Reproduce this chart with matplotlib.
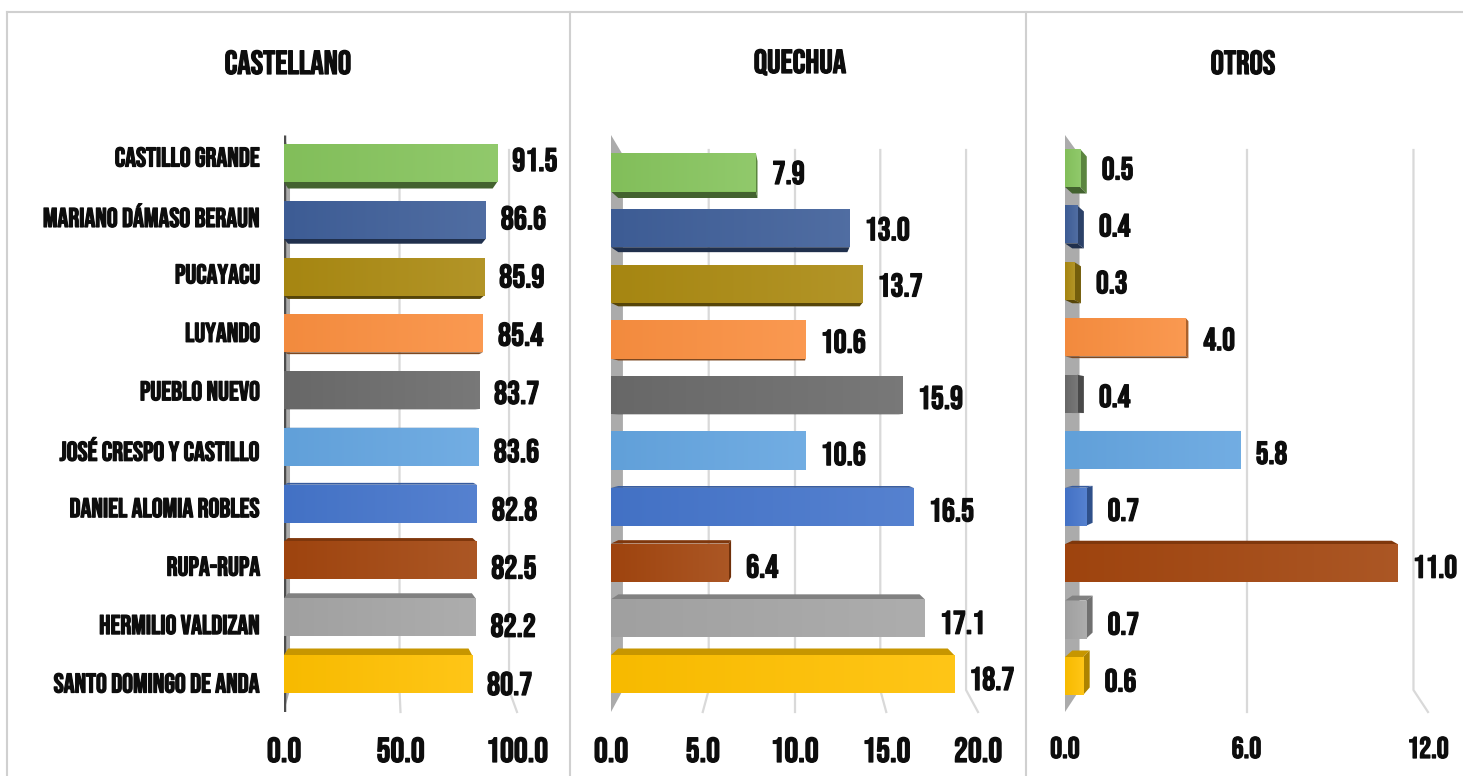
import numpy as np
import matplotlib
matplotlib.use('Agg')
import matplotlib.pyplot as plt
from matplotlib.patches import Polygon
from matplotlib.lines import Line2D
import matplotlib.colors as mcolors
import matplotlib.patheffects as pe

# ---------------- data ----------------
categories = ["CASTILLO GRANDE", "MARIANO DÁMASO BERAUN", "PUCAYACU", "LUYANDO",
              "PUEBLO NUEVO", "JOSÉ CRESPO Y CASTILLO", "DANIEL ALOMIA ROBLES",
              "RUPA-RUPA", "HERMILIO VALDIZAN", "SANTO DOMINGO DE ANDA"]
castellano = [91.5, 86.6, 85.9, 85.4, 83.7, 83.6, 82.8, 82.5, 82.2, 80.7]
quechua = [7.9, 13.0, 13.7, 10.6, 15.9, 10.6, 16.5, 6.4, 17.1, 18.7]
otros = [0.5, 0.4, 0.3, 4.0, 0.4, 5.8, 0.7, 11.0, 0.7, 0.6]
titles = ["CASTELLANO", "QUECHUA", "OTROS"]
ticks_castellano = [0, 50, 100]
ticks_quechua = [0, 5, 10, 15, 20]
ticks_otros = [0, 6, 12]
colors = ['#86C45D', '#3F5F99', '#AB8A12', '#FA8F40', '#6B6B6B',
          '#64A5E0', '#4575CB', '#A3460F', '#A5A5A5', '#FFC000']

# ---------------- style ----------------
W, H = 1463, 776
plt.rcParams['font.family'] = ['Bebas Neue', 'Oswald', 'IBM Plex Sans Condensed', 'DejaVu Sans']
plt.rcParams['font.weight'] = 'bold'
TEXT = '#0d0d0d'
HEAVY = [pe.withStroke(linewidth=0.9, foreground=TEXT)]

fig = plt.figure(figsize=(W / 100, H / 100), dpi=100)
fig.patch.set_facecolor('white')

TOP, BOT = 125, 712  # axes pixel extent (top, bottom)


def shade(col, f):
    r, g, b = mcolors.to_rgb(col)
    if f < 1:
        return (r * f, g * f, b * f)
    t = f - 1
    return (r + (1 - r) * t, g + (1 - g) * t, b + (1 - b) * t)


panels = [
    dict(values=castellano, ticks=ticks_castellano, title=titles[0], x0=284, x1=517,
         c=43, fg=0.94, b0=163, b1=674, v0=159, v1=683, l0=157, l1=683,
         tx=288, tsize=25, vsize=23.5, edge=True),
    dict(values=quechua, ticks=ticks_quechua, title=titles[1], x0=611, x1=978,
         c=10, fg=0.935, b0=172.5, b1=674, v0=172, v1=678, l0=None, l1=None,
         tx=800, tsize=25, vsize=23.5, edge=False),
    dict(values=otros, ticks=ticks_otros, title=titles[2], x0=1065, x1=1428,
         c=6, fg=0.92, b0=168, b1=676, v0=168, v1=680, l0=None, l1=None,
         tx=1243, tsize=21.5, vsize=23, edge=False),
]

for p in panels:
    ticks = p['ticks']
    xmax = ticks[-1]
    ax = fig.add_axes([p['x0'] / W, 1 - BOT / H, (p['x1'] - p['x0']) / W, (BOT - TOP) / H])
    s = (p['b1'] - p['b0']) / 9.0
    ylim = ((BOT - p['b0']) / s, (TOP - p['b0']) / s)
    ax.set_xlim(0, xmax)
    ax.set_ylim(*ylim)

    def ydata(px, b0=p['b0'], s=s):
        return (px - b0) / s

    c = p['c']
    fg = p['fg']
    # left wall
    back0 = c * (1 - fg)
    wall = Polygon([(0, ydata(135)), (back0, ydata(155)), (back0, ydata(690)), (0, ydata(712))],
                   closed=True, facecolor='#ABABAB', edgecolor='none', zorder=1)
    ax.add_patch(wall)
    if p['edge']:
        ax.plot([0, 0], [ydata(135), ydata(712)], color='#4D4D4D', lw=2.5,
                zorder=1.2, solid_capstyle='butt')
    # gridlines (back wall + floor)
    for t in ticks[1:]:
        bx = c + (t - c) * fg
        ax.plot([bx, bx, t], [ydata(150), ydata(690), ydata(712)], color='#D9D9D9',
                lw=1.6, zorder=0.5, clip_on=False)

    # bars
    h = 38.0 / s
    cy = 4.5
    fy = 1 - (6.5 / s) / (cy - h / 2)
    fxb = 0.96
    vals = p['values']
    for i, v in enumerate(vals):
        col = colors[i]
        y0, y1 = i - h / 2, i + h / 2
        bx0 = c + (0 - c) * fxb
        bx1 = c + (v - c) * fxb
        by0 = cy + (y0 - cy) * fy
        by1 = cy + (y1 - cy) * fy
        if y1 < cy:
            ax.add_patch(Polygon([(0, y1), (v, y1), (bx1, by1), (max(bx0, 0), by1)],
                                 closed=True, facecolor=shade(col, 0.5), edgecolor='none', zorder=2.5))
        if y0 > cy:
            ax.add_patch(Polygon([(0, y0), (v, y0), (bx1, by0), (max(bx0, 0), by0)],
                                 closed=True, facecolor=shade(col, 0.78), edgecolor='none', zorder=2.5))
        if bx1 > v:
            ax.add_patch(Polygon([(v, y0), (bx1, by0), (bx1, by1), (v, y1)],
                                 closed=True, facecolor=shade(col, 0.68), edgecolor='none', zorder=2.6))
        ax.barh(i, v, height=h, color=col, linewidth=0, zorder=3)
        # subtle horizontal gradient on the front face
        left = np.array(shade(col, 0.97))
        right = np.array(shade(col, 1.09))
        tgrad = np.linspace(0, 1, 64)[None, :, None]
        img = left[None, None, :] * (1 - tgrad) + right[None, None, :] * tgrad
        ax.imshow(img, extent=(0, v, y1, y0), aspect='auto', zorder=3.1,
                  interpolation='bilinear')
        # value label
        vy = ydata(p['v0'] + i * (p['v1'] - p['v0']) / 9.0)
        ax.annotate(f'{v:.1f}', xy=(max(v, bx1), vy), xytext=(15, 0),
                    textcoords='offset pixels', ha='left', va='center',
                    fontsize=p['vsize'], fontweight='bold', color=TEXT, zorder=5,
                    annotation_clip=False, path_effects=HEAVY)

    ax.set_xlim(0, xmax)
    ax.set_ylim(*ylim)
    ax.set_xticks(ticks, [f'{t:.1f}' for t in ticks])
    ax.tick_params(axis='x', length=0, pad=18, labelsize=p['tsize'], labelcolor=TEXT)
    if p['l0'] is not None:
        ypos = [ydata(p['l0'] + i * (p['l1'] - p['l0']) / 9.0) for i in range(len(categories))]
        ax.set_yticks(ypos, categories)
        ax.tick_params(axis='y', length=0, pad=17, labelsize=19.5, labelcolor=TEXT)
    else:
        ax.set_yticks([])
    for lab in ax.get_xticklabels() + ax.get_yticklabels():
        lab.set_fontweight('bold')
        lab.set_path_effects(HEAVY)
    for sp in ax.spines.values():
        sp.set_visible(False)
    ax.patch.set_alpha(0)

    fig.text(p['tx'] / W, 1 - 62 / H, p['title'], ha='center', va='center',
             fontsize=24, fontweight='bold', color=TEXT, path_effects=HEAVY)

# panel borders
bc = '#D0D0D0'
fig.add_artist(Line2D([7 / W, 1], [1 - 12 / H, 1 - 12 / H], color=bc, lw=1.5))
for xp in (7, 570, 1026):
    fig.add_artist(Line2D([xp / W, xp / W], [0, 1 - 12 / H], color=bc, lw=1.5))

fig.savefig('out.png', dpi=100, facecolor='white')
